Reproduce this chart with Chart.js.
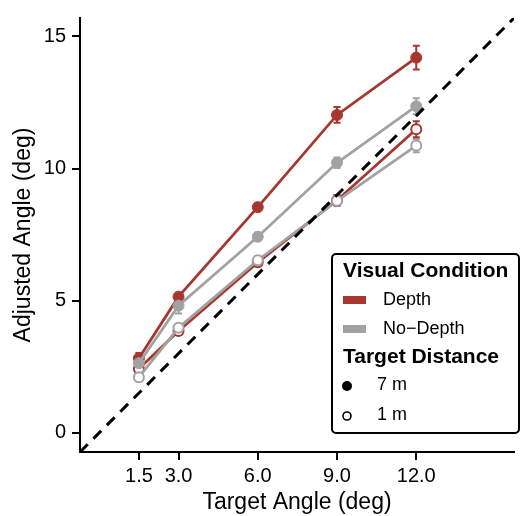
<!DOCTYPE html>
<html>
<head>
<meta charset="utf-8">
<script src="https://cdn.jsdelivr.net/npm/chart.js@4"></script>
<style>
  body { margin: 0; background: #fff; }
  canvas { display: block; }
</style>
</head>
<body>
<canvas id="mycanvas" width="521" height="516"></canvas>
<script>
// target angles (deg)
var targetAngles = [1.5, 3.0, 6.0, 9.0, 12.0];

// adjusted angles
var depth7m = [2.82, 5.15, 8.54, 12.03, 14.2];
var depth7mErr = [0.2, 0.15, 0.15, 0.3, 0.45];
var depth1m = [2.42, 3.85, 6.45, 8.8, 11.49];
var depth1mErr = [0.15, 0.15, 0.15, 0.2, 0.3];
var noDepth7m = [2.63, 4.81, 7.42, 10.22, 12.36];
var noDepth7mErr = [0.2, 0.3, 0.15, 0.2, 0.3];
var noDepth1m = [2.1, 3.97, 6.53, 8.78, 10.87];
var noDepth1mErr = [0.15, 0.15, 0.15, 0.2, 0.25];

var xTicks = [1.5, 3.0, 6.0, 9.0, 12.0];
var yTicks = [0, 5, 10, 15];
var axisMin = -0.73;
var axisMax = 15.7;

var conditionLabels = ["Depth", "No\u2212Depth"];
var distanceLabels = ["7 m", "1 m"];

var red = "#a6372f";
var gray = "#a2a2a2";
var fontFam = "'Liberation Sans', Arial, sans-serif";

function pts(ys) {
    var out = [];
    for (var i in targetAngles) {
        out.push({x: targetAngles[i], y: ys[i]});
    }
    return out;
}

function series(label, ys, errs, color, filled) {
    return {
        label: label,
        data: pts(ys),
        errors: errs,
        borderColor: color,
        backgroundColor: filled ? color : "#ffffff",
        pointBackgroundColor: filled ? color : "#ffffff",
        pointBorderColor: color,
        pointBorderWidth: filled ? 1 : 2,
        pointRadius: filled ? 5.5 : 5,
        borderWidth: 2.8,
        fill: false,
        tension: 0
    };
}

var errorBars = {
    id: "errorBars",
    beforeDatasetsDraw: function(chart) {
        var ctx = chart.ctx;
        var xs = chart.scales.x, ys = chart.scales.y;
        chart.data.datasets.forEach(function(ds) {
            if (!ds.errors) return;
            ctx.save();
            ctx.strokeStyle = ds.borderColor;
            ctx.lineWidth = 2;
            ds.data.forEach(function(p, i) {
                var px = xs.getPixelForValue(p.x);
                var top = ys.getPixelForValue(p.y + ds.errors[i]);
                var bot = ys.getPixelForValue(p.y - ds.errors[i]);
                ctx.beginPath();
                ctx.moveTo(px, top); ctx.lineTo(px, bot);
                ctx.moveTo(px - 3.5, top); ctx.lineTo(px + 3.5, top);
                ctx.moveTo(px - 3.5, bot); ctx.lineTo(px + 3.5, bot);
                ctx.stroke();
            });
            ctx.restore();
        });
    }
};

var legendBox = {
    id: "legendBox",
    afterDraw: function(chart) {
        var ctx = chart.ctx;
        ctx.save();
        ctx.fillStyle = "#ffffff";
        ctx.strokeStyle = "#000000";
        ctx.lineWidth = 2;
        ctx.beginPath();
        ctx.roundRect(332, 254, 187, 179, 4);
        ctx.fill();
        ctx.stroke();

        ctx.fillStyle = "#000";
        ctx.textBaseline = "middle";
        ctx.textAlign = "left";
        ctx.font = "bold 21px " + fontFam;
        ctx.fillText("Visual Condition", 343, 271);
        ctx.fillText("Target Distance", 343, 357);

        ctx.font = "18px " + fontFam;
        var cols = [red, gray];
        var rows = [300, 329];
        for (var i = 0; i < conditionLabels.length; i++) {
            ctx.fillStyle = cols[i];
            ctx.fillRect(343, rows[i] - 4, 23, 8);
            ctx.fillStyle = "#000";
            ctx.fillText(conditionLabels[i], 383, rows[i]);
        }

        ctx.beginPath();
        ctx.arc(347, 386, 5, 0, Math.PI * 2);
        ctx.fill();
        ctx.fillText(distanceLabels[0], 377, 385);

        ctx.beginPath();
        ctx.arc(347, 416, 4, 0, Math.PI * 2);
        ctx.lineWidth = 1.6;
        ctx.stroke();
        ctx.fillText(distanceLabels[1], 377, 415);
        ctx.restore();
    }
};

var ctx = document.getElementById("mycanvas");

var chart = new Chart(ctx, {
    type: "line",
    data: {
        datasets: [
            {
                label: "identity",
                data: [{x: axisMin, y: axisMin}, {x: axisMax, y: axisMax}],
                borderColor: "#000000",
                borderWidth: 3,
                borderDash: [11, 8],
                pointRadius: 0,
                fill: false
            },
            series("No-Depth 1 m", noDepth1m, noDepth1mErr, gray, false),
            series("No-Depth 7 m", noDepth7m, noDepth7mErr, gray, true),
            series("Depth 1 m", depth1m, depth1mErr, red, false),
            series("Depth 7 m", depth7m, depth7mErr, red, true)
        ]
    },
    options: {
        responsive: false,
        animation: false,
        devicePixelRatio: 1,
        layout: { padding: { top: 11, right: 0, left: 0, bottom: 0 } },
        plugins: {
            legend: { display: false },
            tooltip: { enabled: false }
        },
        scales: {
            x: {
                type: "linear",
                min: axisMin,
                max: axisMax,
                afterBuildTicks: function(axis) {
                    axis.ticks = xTicks.map(function(v) { return {value: v}; });
                },
                afterFit: function(axis) { axis.height = 64; },
                ticks: {
                    color: "#000",
                    padding: 4,
                    maxRotation: 0,
                    font: { family: fontFam, size: 20 },
                    callback: function(v) { return Number(v).toFixed(1); }
                },
                grid: {
                    drawOnChartArea: false,
                    drawTicks: true,
                    tickLength: 8,
                    color: "#000",
                    lineWidth: 2
                },
                border: { display: true, color: "#000", width: 2 },
                title: {
                    display: true,
                    text: "Target Angle (deg)",
                    color: "#000",
                    padding: 0,
                    font: { family: fontFam, size: 23 }
                }
            },
            y: {
                type: "linear",
                min: axisMin,
                max: axisMax,
                afterBuildTicks: function(axis) {
                    axis.ticks = yTicks.map(function(v) { return {value: v}; });
                },
                afterFit: function(axis) { axis.width = 80; },
                ticks: {
                    color: "#000",
                    padding: 6,
                    font: { family: fontFam, size: 20 }
                },
                grid: {
                    drawOnChartArea: false,
                    drawTicks: true,
                    tickLength: 8,
                    color: "#000",
                    lineWidth: 2
                },
                border: { display: true, color: "#000", width: 2 },
                title: {
                    display: true,
                    text: "Adjusted Angle (deg)",
                    color: "#000",
                    padding: { top: 10, bottom: 0 },
                    font: { family: fontFam, size: 23 }
                }
            }
        }
    },
    plugins: [errorBars, legendBox]
});
</script>
</body>
</html>
